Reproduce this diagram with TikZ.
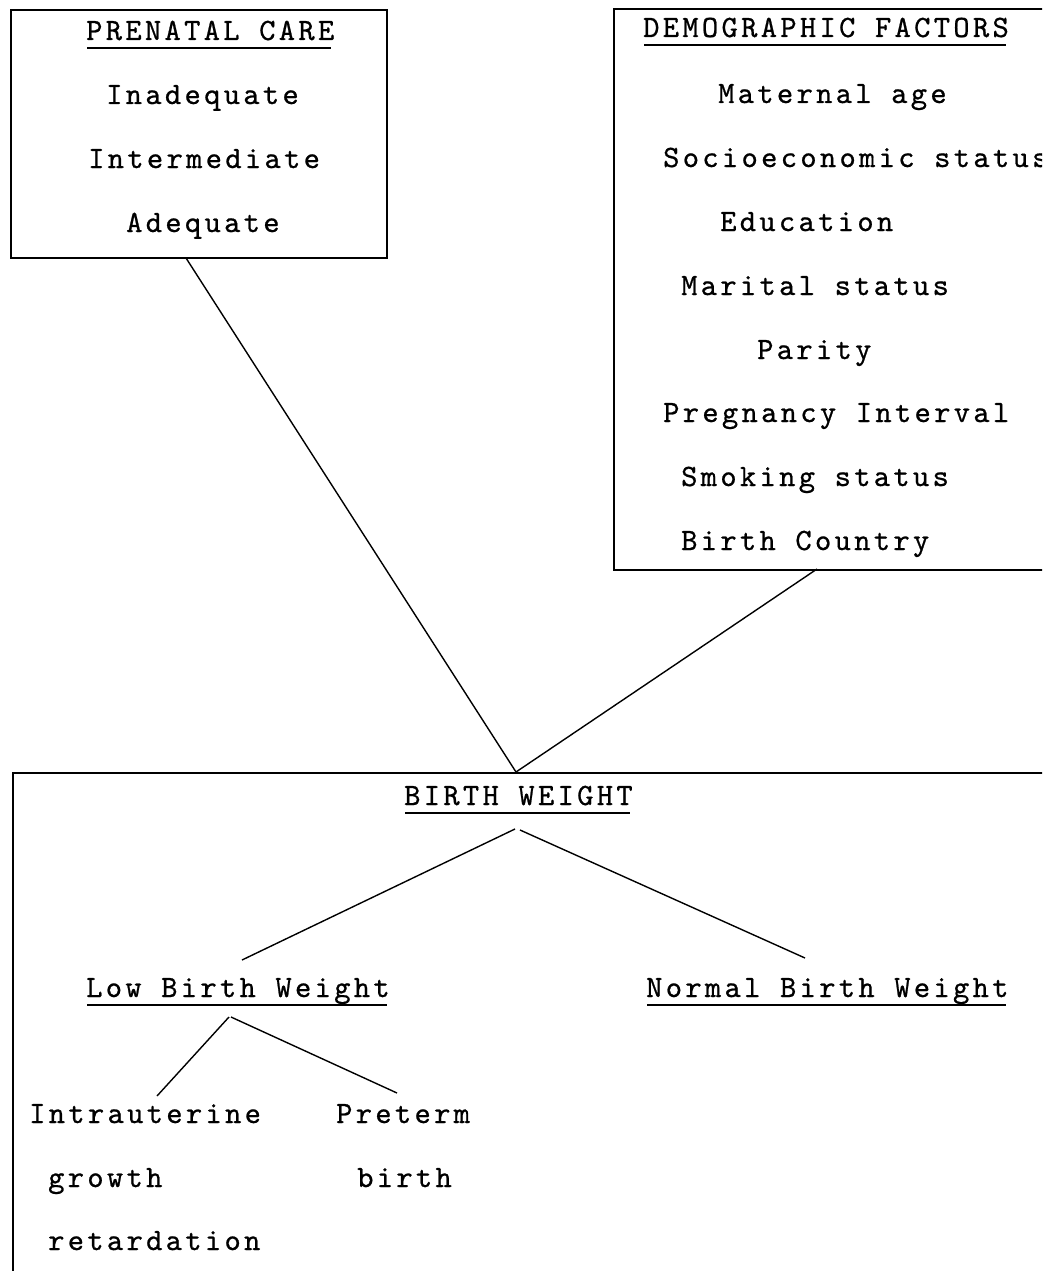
\documentclass[tikz,border=0pt]{standalone}
\usepackage{fontspec}
\newfontfamily\tw{lmmono10-regular.otf}[LetterSpace=10.7,FakeBold=0.7]
\begin{document}
\begin{tikzpicture}[x=1pt,y=-1pt,
  txt/.style={anchor=base west,inner sep=0pt,font=\tw\fontsize{31}{31}\selectfont},
  frame/.style={draw,line width=1.8pt,inner sep=0pt,anchor=north west},
  link/.style={line width=1.4pt},
  uline/.style={line width=1.8pt}]
\clip (0,0) rectangle (1042,1271);
\fill[white] (0,0) rectangle (1042,1271);

% boxes (the right-hand and lower ones run past the edge of the sheet)
\node[frame,minimum width=376pt,minimum height=248pt] (pc) at (10,9) {};
\node[frame,minimum width=445pt,minimum height=561pt] (df) at (613,8) {};
\node[frame,minimum width=1045pt,minimum height=530pt] (bwbox) at (12,772) {};

% prenatal care
\node[txt] (pct) at (86,40) {PRENATAL CARE};
\node[txt] (pc1) at (106,104) {Inadequate};
\node[txt] (pc2) at (88,168) {Intermediate};
\node[txt] (pc3) at (126,232) {Adequate};

% demographic factors
\node[txt] (dft) at (643,37) {DEMOGRAPHIC FACTORS};
\node[txt] (df1) at (718,103) {Maternal age};
\node[txt] (df2) at (663,167) {Socioeconomic status};
\node[txt] (df3) at (720,231) {Education};
\node[txt] (df4) at (681,295) {Marital status};
\node[txt] (df5) at (757,359) {Parity};
\node[txt] (df6) at (663,422) {Pregnancy Interval};
\node[txt] (df7) at (681,486) {Smoking status};
\node[txt] (df8) at (681,550) {Birth Country};

% birth weight tree
\node[txt] (bw) at (404,805) {BIRTH WEIGHT};
\node[txt] (lbw) at (86,997) {Low Birth Weight};
\node[txt] (nbw) at (646,997) {Normal Birth Weight};
\node[txt] (iu1) at (29,1123) {Intrauterine};
\node[txt] (iu2) at (48,1187) {growth};
\node[txt] (iu3) at (48,1250) {retardation};
\node[txt] (pt1) at (336,1123) {Preterm};
\node[txt] (pt2) at (357,1187) {birth};

% underlined headings
\foreach \n in {pct,dft,bw,lbw,nbw}
  \draw[uline] ([xshift=1pt,yshift=-8pt]\n.base west) -- ([xshift=-3pt,yshift=-8pt]\n.base east);

% connector ends
\coordinate (pcfoot) at (186,258);
\coordinate (dffoot) at (817,569);
\coordinate (join) at (516,772);
\coordinate (bwl) at (515,829);
\coordinate (bwr) at (520,830);
\coordinate (lbwhead) at (242,960);
\coordinate (nbwhead) at (805,958);
\coordinate (lbwl) at (229,1017);
\coordinate (lbwr) at (231,1017);
\coordinate (iuhead) at (157,1096);
\coordinate (pthead) at (397,1093);

\draw[link] (pcfoot) -- (join);
\draw[link] (dffoot) -- (join);
\draw[link] (bwl) -- (lbwhead);
\draw[link] (bwr) -- (nbwhead);
\draw[link] (lbwl) -- (iuhead);
\draw[link] (lbwr) -- (pthead);
\end{tikzpicture}
\end{document}
